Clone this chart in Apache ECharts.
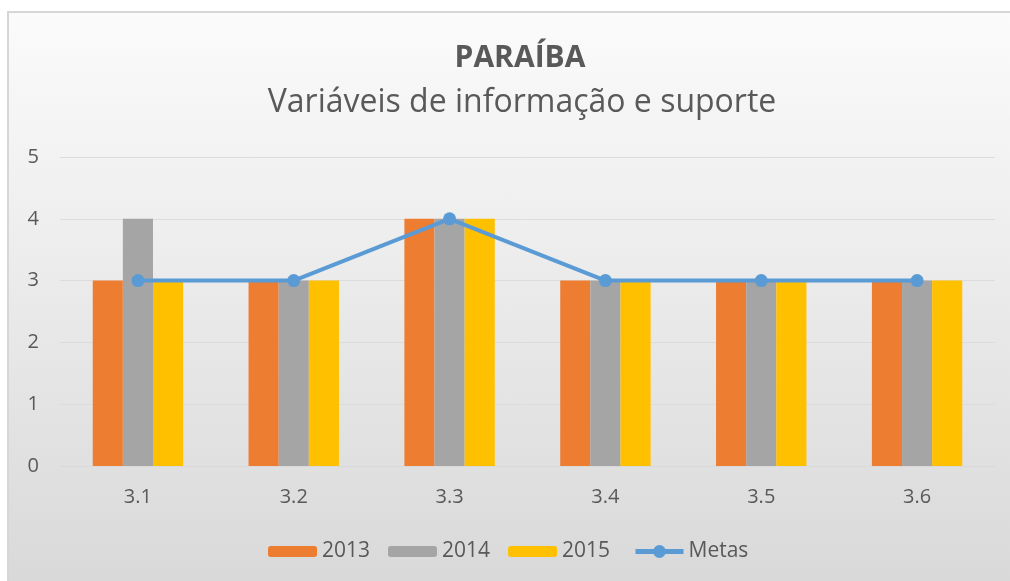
<!DOCTYPE html>
<html>
<head>
<meta charset="utf-8">
<script src="https://cdn.jsdelivr.net/npm/echarts@6/dist/echarts.min.js"></script>
<style>
  html, body { margin: 0; padding: 0; background: #fff; }
  #frame {
    position: absolute; left: 7px; top: 11px; right: 0; bottom: 0;
    border-left: 2px solid #d6d6d6; border-top: 2px solid #d6d6d6;
    background: linear-gradient(#fbfbfb, #d9d9d9);
  }
  #chart { position: absolute; left: 0; top: 0; width: 1010px; height: 581px; }
</style>
</head>
<body>
<div id="frame"></div>
<div id="chart"></div>
<script>
var categories = ['3.1', '3.2', '3.3', '3.4', '3.5', '3.6'];
var v2013 = [3, 3, 4, 3, 3, 3];
var v2014 = [4, 3, 4, 3, 3, 3];
var v2015 = [3, 3, 4, 3, 3, 3];
var metas = [3, 3, 4, 3, 3, 3];

var myChart = echarts.init(document.getElementById('chart'));
var txt = '#595959';
var font = 'Open Sans';

var option = {
  backgroundColor: 'transparent',
  title: [{
    text: 'PARAÍBA',
    left: 515, top: 38, textAlign: 'center',
    textStyle: { color: txt, fontFamily: font, fontSize: 30, fontWeight: 'bold' }
  }, {
    text: 'Variáveis de informação e suporte',
    left: 517, top: 82, textAlign: 'center',
    textStyle: { color: txt, fontFamily: font, fontSize: 32, fontWeight: 'normal' }
  }],
  legend: [{
    left: 263, top: 536,
    itemWidth: 49, itemHeight: 11, itemGap: 18,
    textStyle: { color: txt, fontFamily: font, fontSize: 21 },
    data: ['2013', '2014', '2015']
  }, {
    left: 628, top: 536,
    itemWidth: 48, itemHeight: 16,
    lineStyle: { width: 5 },
    textStyle: { color: txt, fontFamily: font, fontSize: 21 },
    data: ['Metas']
  }],
  grid: { left: 60, right: 15, top: 157, bottom: 115 },
  xAxis: {
    type: 'category',
    data: categories,
    axisLine: { lineStyle: { color: '#d9d9d9' } },
    axisTick: { show: false },
    axisLabel: { color: txt, fontFamily: font, fontSize: 20, margin: 21 }
  },
  yAxis: {
    type: 'value', min: 0, max: 5, interval: 1,
    axisLabel: { color: txt, fontFamily: font, fontSize: 20, margin: 21 },
    splitLine: { lineStyle: { color: '#dcdcdc' } }
  },
  series: [{
    name: '2013', type: 'bar', data: v2013,
    barGap: '0%', barCategoryGap: '42%',
    itemStyle: { color: '#ed7d31' }
  }, {
    name: '2014', type: 'bar', data: v2014,
    itemStyle: { color: '#a5a5a5' }
  }, {
    name: '2015', type: 'bar', data: v2015,
    itemStyle: { color: '#ffc000' }
  }, {
    name: 'Metas', type: 'line', data: metas,
    symbol: 'circle', symbolSize: 13,
    lineStyle: { color: '#5b9bd5', width: 4 },
    itemStyle: { color: '#5b9bd5' },
    z: 5
  }]
};
myChart.setOption(option);
</script>
</body>
</html>
